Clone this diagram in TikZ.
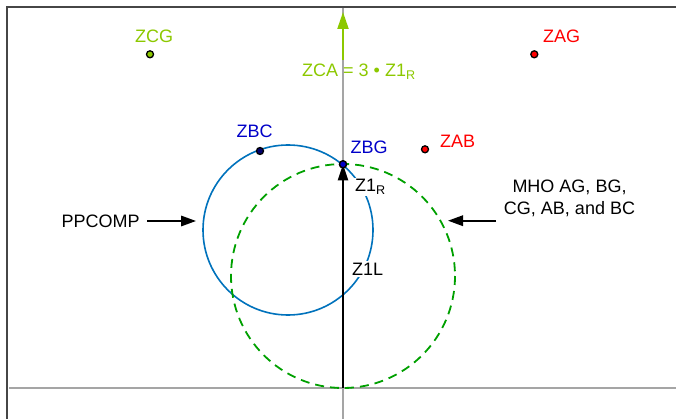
\documentclass[tikz,border=0pt]{standalone}
\usepackage{fontspec}
\setmainfont{Liberation Sans}
\usetikzlibrary{arrows.meta}
\definecolor{ygreen}{RGB}{140,200,0}
\definecolor{zred}{RGB}{255,0,0}
\definecolor{zblue}{RGB}{0,0,200}
\definecolor{znavy}{RGB}{0,0,110}
\definecolor{cblue}{RGB}{0,114,188}
\definecolor{cgreen}{RGB}{0,160,0}
\definecolor{axisgray}{RGB}{165,165,165}
\definecolor{framegray}{RGB}{70,70,70}
\tikzset{
  lbl/.style={font=\fontsize{18}{21}\selectfont, inner sep=0pt, anchor=base west},
  wlbl/.style={lbl, fill=white, inner sep=1.5pt},
  dot/.style={circle, minimum size=7pt, inner sep=0pt, draw=black, line width=1.3pt},
  axisline/.style={axisgray, line width=1.5pt},
  ptr/.style={black, line width=1.7pt, -{Triangle[length=15pt,width=10.5pt]}},
}
\begin{document}
\begin{tikzpicture}[x=1pt,y=-1pt]
\useasboundingbox (0,0) rectangle (676,419);
% frame
\coordinate (fbl) at (7,419);
\coordinate (ftr) at (676,7.5);
\draw[framegray, line width=2pt] (fbl) |- (ftr);
% axes
\coordinate (hxl) at (9,388);
\coordinate (hxr) at (676,388);
\coordinate (vxt) at (343,8.5);
\coordinate (vxb) at (343,419);
\draw[axisline] (hxl) -- (hxr);
\draw[axisline] (vxt) -- (vxb);
% circles
\coordinate (pc) at (288,230);
\coordinate (mc) at (343,276);
\draw[cblue, line width=1.6pt] (pc) circle[radius=85];
\draw[cgreen, line width=1.8pt, dash pattern=on 9pt off 6pt] (mc) circle[radius=112];
% ZCA arrow
\coordinate (zcab) at (343,60);
\coordinate (zcat) at (343,12);
\draw[ygreen, line width=2.2pt, -{Triangle[length=17pt,width=11pt]}] (zcab) -- (zcat);
% Z1 arrow
\coordinate (orig) at (343,388);
\node[dot, fill=zblue] (zbg) at (343,164.3) {};
\draw[black, line width=2pt, -{Triangle[length=16pt,width=10pt]}] (orig) -- (zbg.center);
\node[dot, fill=zblue] at (zbg) {};
% labels
\node[lbl, text=ygreen] (zca) at (302,76.5) {ZCA = 3 • Z1\textsubscript{R}};
\node[wlbl] (z1r) at (353.5,192) {Z1\textsubscript{R}};
\node[wlbl] (z1l) at (350.5,275) {Z1L};
% points
\node[dot, fill=ygreen] (zcg) at (150,54.3) {};
\node[lbl, text=ygreen] (zcgl) at (135,42.5) {ZCG};
\node[dot, fill=zred] (zag) at (534.3,54.3) {};
\node[lbl, text=zred] (zagl) at (543,42.5) {ZAG};
\node[dot, fill=zred] (zab) at (425,149.3) {};
\node[lbl, text=zred] (zabl) at (440,147.5) {ZAB};
\node[dot, fill=znavy] (zbc) at (260,151) {};
\node[lbl, text=zblue] (zbcl) at (236.5,137.5) {ZBC};
\node[lbl, text=zblue] (zbgl) at (350.5,153.5) {ZBG};
% PPCOMP
\node[lbl] (pp) at (61.5,227.5) {PPCOMP};
\coordinate (ppa) at (147,221);
\coordinate (ppb) at (196,221);
\draw[ptr] (ppa) -- (ppb);
% MHO
\node[font=\fontsize{18}{22}\selectfont, align=center, inner sep=0pt, anchor=base] (mho) at (569.5,215) {MHO AG, BG,\\CG, AB, and BC};
\coordinate (mhoa) at (496,220.7);
\coordinate (mhob) at (448,220.7);
\draw[ptr] (mhoa) -- (mhob);
\end{tikzpicture}
\end{document}
